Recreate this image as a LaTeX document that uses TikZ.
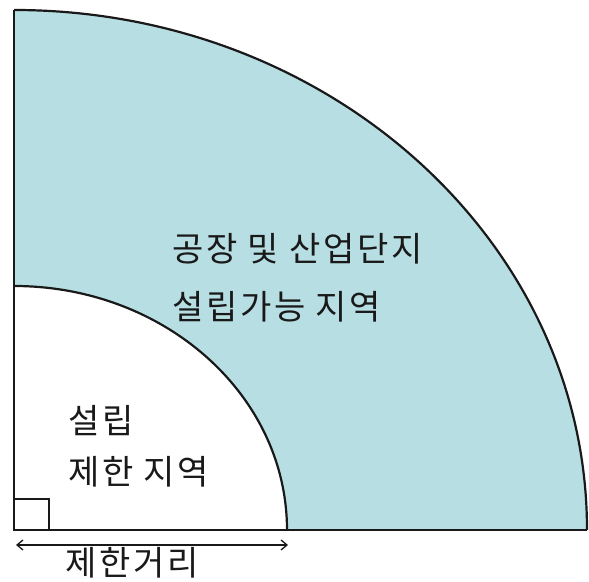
\documentclass[tikz,border=0pt]{standalone}
\usepackage{fontspec}
\setmainfont{Noto Sans CJK KR}[LetterSpace=8]
\usetikzlibrary{arrows.meta}
\definecolor{zonefill}{RGB}{183,222,227}
\definecolor{inkc}{RGB}{25,25,25}
\tikzset{
  outline/.style={draw=inkc, line width=2.2pt},
  thinline/.style={draw=inkc, line width=1.4pt},
  lbl/.style={inner sep=0pt, anchor=west, text=inkc, font=\fontsize{34}{40}\selectfont}
}
\begin{document}
\begin{tikzpicture}[x=1pt,y=1pt]
\useasboundingbox (0,0) rectangle (589,581);
\coordinate (O) at (14,51);
\coordinate (Itop) at (14,295);
\coordinate (Otop) at (14,571);
\coordinate (Iend) at (287,51);
\coordinate (Oend) at (587,51);
\fill[zonefill] (Itop) -- (Otop) arc[start angle=90,end angle=0,x radius=573,y radius=520] -- (Iend) arc[start angle=0,end angle=90,x radius=273,y radius=244] -- cycle;
\draw[outline] (Otop) arc[start angle=90,end angle=0,x radius=573,y radius=520];
\draw[outline] (Itop) arc[start angle=90,end angle=0,x radius=273,y radius=244];
\draw[thinline] (O) -- (Otop);
\draw[thinline] (O) -- (Oend);
\draw[thinline] (O) rectangle (49,82);
\coordinate (A1) at (16,36);
\coordinate (A2) at (288,36);
\draw[inkc, line width=1.3pt, {Straight Barb[length=6pt,width=10pt]}-{Straight Barb[length=6pt,width=10pt]}] (A1) -- (A2);
\node[lbl] (t1) at (172,332) {공장 및 산업단지};
\node[lbl] (t2) at (172,274) {설립가능 지역};
\node[lbl] (t3) at (68,160) {설립};
\node[lbl] (t4) at (68,109) {제한 지역};
\node[lbl] (t5) at (65,18) {제한거리};
\end{tikzpicture}
\end{document}
